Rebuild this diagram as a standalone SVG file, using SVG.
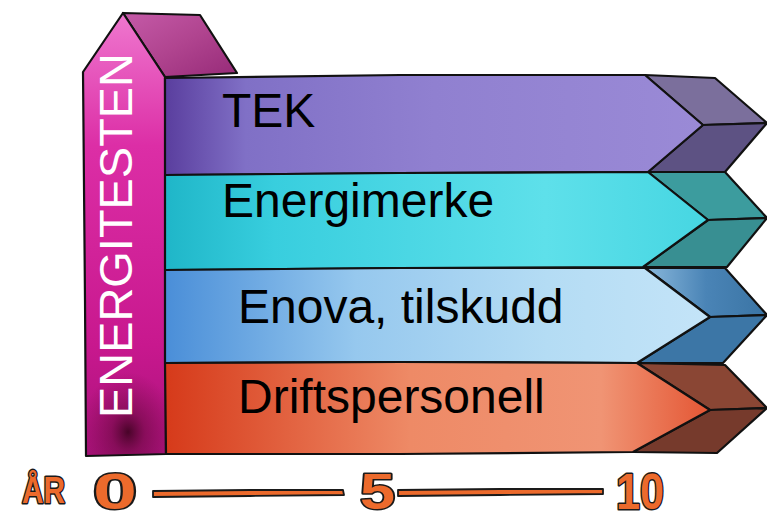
<svg xmlns="http://www.w3.org/2000/svg" width="767" height="522" viewBox="0 0 767 522">
  <style>
    .ink { stroke: #111; stroke-width: 2.2; stroke-linejoin: round; stroke-linecap: round; }
    .label { font-family: "Liberation Sans", Arial, sans-serif; font-size: 48px; fill: #000; }
    .post-label { font-family: "Liberation Sans", Arial, sans-serif; font-size: 47px; fill: #fff; }
    .axis-text { font-family: "Liberation Sans", Arial, sans-serif; font-weight: bold; fill: #ec6a2c; stroke: #1a1a1a; stroke-width: 3; paint-order: stroke; stroke-linejoin: round; }
    .axis-line { fill: #ec6a2c; stroke: #1a1a1a; stroke-width: 1.8; stroke-linejoin: round; }
  </style>
  <defs>
    <linearGradient id="gPost" x1="0" y1="0" x2="0" y2="1">
      <stop offset="0" stop-color="#ef78cf"/>
      <stop offset="0.3" stop-color="#dc2ea6"/>
      <stop offset="0.75" stop-color="#c8188e"/>
      <stop offset="1" stop-color="#a8127a"/>
    </linearGradient>
    <radialGradient id="gPostShade" gradientUnits="userSpaceOnUse" cx="128" cy="432" r="60" gradientTransform="translate(128 432) scale(0.8 1) translate(-128 -432)">
      <stop offset="0" stop-color="#3c021e" stop-opacity="0.9"/>
      <stop offset="0.35" stop-color="#6a083e" stop-opacity="0.55"/>
      <stop offset="1" stop-color="#7a0a48" stop-opacity="0"/>
    </radialGradient>
    <linearGradient id="gRoof" x1="0" y1="0" x2="1" y2="1">
      <stop offset="0" stop-color="#c55aa8"/>
      <stop offset="0.5" stop-color="#b0448f"/>
      <stop offset="1" stop-color="#962a78"/>
    </linearGradient>
    <linearGradient id="gTek" x1="0" y1="0" x2="1" y2="0">
      <stop offset="0" stop-color="#5a3e9e"/>
      <stop offset="0.15" stop-color="#8070c6"/>
      <stop offset="0.5" stop-color="#9080d0"/>
      <stop offset="1" stop-color="#9a8ad6"/>
    </linearGradient>
    <linearGradient id="gEnergi" x1="0" y1="0" x2="1" y2="0">
      <stop offset="0" stop-color="#1fb6c8"/>
      <stop offset="0.2" stop-color="#38cede"/>
      <stop offset="0.7" stop-color="#5ee0ea"/>
      <stop offset="1" stop-color="#46d6e2"/>
    </linearGradient>
    <linearGradient id="gEnova" x1="0" y1="0" x2="1" y2="0">
      <stop offset="0" stop-color="#4a8ed8"/>
      <stop offset="0.35" stop-color="#96c8ee"/>
      <stop offset="0.7" stop-color="#b4dcf4"/>
      <stop offset="1" stop-color="#c4e4f8"/>
    </linearGradient>
    <linearGradient id="gDrift" x1="0" y1="0" x2="1" y2="0">
      <stop offset="0" stop-color="#d63a1a"/>
      <stop offset="0.45" stop-color="#ee8a66"/>
      <stop offset="0.8" stop-color="#f09474"/>
      <stop offset="1" stop-color="#e45634"/>
    </linearGradient>
    <linearGradient id="gEnovaSide" x1="0" y1="0" x2="1" y2="0">
      <stop offset="0" stop-color="#8ab8dc"/>
      <stop offset="0.5" stop-color="#4a84b6"/>
      <stop offset="1" stop-color="#3a74a4"/>
    </linearGradient>
  </defs>

  <!-- Vertical post with 3D roof -->
  <g id="post">
    <path class="ink" fill="url(#gRoof)" d="M123,13 L200,15 L237,73 L165,77 Z"/>
    <path class="ink" fill="url(#gPost)" d="M83,72 L123,13 L165,77 L166,454 L86,456 L85,300 Z"/>
    <path fill="url(#gPostShade)" d="M86,340 L165,340 L165,453 L87,455 Z"/>
    <text class="post-label" transform="translate(132,418) rotate(-90)" textLength="365" lengthAdjust="spacingAndGlyphs">ENERGITESTEN</text>
  </g>

  <!-- TEK -->
  <g id="bar-tek">
    <path class="ink" fill="#7b6f9c" d="M645,75 L715,78 L767,123 L703,125 Z"/>
    <path class="ink" fill="#5d5283" d="M703,125 L767,123 L725,172 L648,172 Z"/>
    <path class="ink" fill="url(#gTek)" d="M165,78 L400,75 L645,75 L703,125 L648,172 L400,173 L165,175 Z"/>
    <text class="label" x="222" y="127">TEK</text>
  </g>

  <!-- Energimerke -->
  <g id="bar-energimerke">
    <path class="ink" fill="#3c9c9e" d="M648,172 L725,172 L767,218 L708,220 Z"/>
    <path class="ink" fill="#388f92" d="M708,220 L767,218 L727,267 L643,267 Z"/>
    <path class="ink" fill="url(#gEnergi)" d="M165,175 L400,173 L648,172 L708,220 L643,267 L400,268 L165,270 Z"/>
    <text class="label" x="222" y="217">Energimerke</text>
  </g>

  <!-- Enova, tilskudd -->
  <g id="bar-enova">
    <path class="ink" fill="url(#gEnovaSide)" d="M645,268 L725,268 L767,315 L710,317 Z"/>
    <path class="ink" fill="#3c76a6" d="M710,317 L767,315 L723,363 L637,363 Z"/>
    <path class="ink" fill="url(#gEnova)" d="M165,270 L400,268 L645,268 L710,317 L637,363 L400,362 L165,363 Z"/>
    <text class="label" x="238" y="323">Enova, tilskudd</text>
  </g>

  <!-- Driftspersonell -->
  <g id="bar-drift">
    <path class="ink" fill="#8a4634" d="M637,363 L725,365 L767,408 L710,410 Z"/>
    <path class="ink" fill="#763a2c" d="M710,410 L767,408 L717,453 L633,452 Z"/>
    <path class="ink" fill="url(#gDrift)" d="M165,363 L400,362 L637,363 L710,410 L633,452 L400,454 L166,454 Z"/>
    <text class="label" x="238" y="413">Driftspersonell</text>
  </g>

  <!-- Time axis in years -->
  <g id="axis">
    <path class="axis-line" d="M153,491 L250,490 L343,490 L344,495 L250,496 L153,497 Z"/>
    <path class="axis-line" d="M398,490 L500,489 L603,489 L603,494 L500,495 L398,496 Z"/>
    <text class="axis-text" x="22" y="503" font-size="36" textLength="43" lengthAdjust="spacingAndGlyphs">ÅR</text>
    <text class="axis-text" x="93" y="509" font-size="50" textLength="44" lengthAdjust="spacingAndGlyphs">0</text>
    <text class="axis-text" x="360" y="509" font-size="50" textLength="35" lengthAdjust="spacingAndGlyphs">5</text>
    <text class="axis-text" x="616" y="509" font-size="50" textLength="48" lengthAdjust="spacingAndGlyphs">10</text>
  </g>
</svg>
